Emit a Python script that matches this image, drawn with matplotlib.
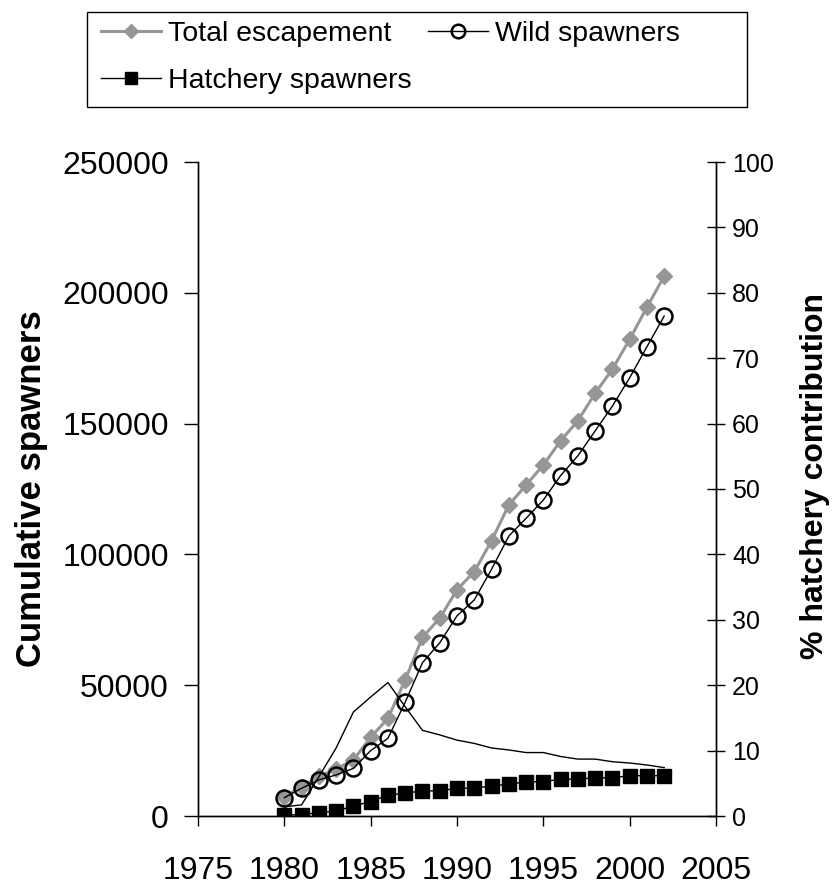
import numpy as np
import matplotlib
matplotlib.use("Agg")
import matplotlib.pyplot as plt
from matplotlib.patches import Rectangle

plt.rcParams['font.family'] = ['Liberation Sans', 'DejaVu Sans']

years = list(range(1980, 2003))

total_escapement = [7400, 11100, 15100, 18000, 21400, 30100, 37300, 52000,
                    68300, 75600, 86500, 93400, 105200, 118900, 126500,
                    134200, 143400, 151100, 161600, 170800, 182200, 194500,
                    206400]
wild_spawners = [7000, 10600, 13800, 15700, 18200, 25000, 29700, 43500,
                 58600, 66200, 76500, 82600, 94300, 107000, 113800, 120800,
                 130100, 137700, 147200, 156700, 167500, 179400, 191100]
hatchery_spawners = [400, 500, 1300, 1900, 3800, 5500, 8000, 8700, 9600,
                     9600, 10600, 10600, 11500, 12100, 13100, 13100, 14100,
                     14100, 14600, 14600, 15400, 15400, 15400]
hatchery_pct = [1.4, 1.7, 6.0, 10.4, 15.9, 18.2, 20.4, 16.7, 13.1, 12.4,
                11.6, 11.1, 10.4, 10.1, 9.7, 9.7, 9.1, 8.7, 8.7, 8.3, 8.1,
                7.8, 7.4]

GRAY = '#969696'
W, H = 838, 886

fig = plt.figure(figsize=(W / 100, H / 100), dpi=100)
ax1 = fig.add_axes([198 / W, 1 - 816 / H, 518 / W, 654 / H])
ax2 = ax1.twinx()

l_tot, = ax1.plot(years, total_escapement, color=GRAY, lw=2.2, marker='D',
                  ms=8, mfc=GRAY, mec=GRAY, zorder=2,
                  label='Total escapement')
l_wild, = ax1.plot(years, wild_spawners, color='black', lw=1.0, marker='o',
                   ms=11.5, mfc='none', mec='black', mew=1.8, zorder=3,
                   label='Wild spawners')
l_hat, = ax1.plot(years, hatchery_spawners, color='black', lw=1.0,
                  marker='s', ms=10, mfc='black', mec='black', zorder=4,
                  label='Hatchery spawners')
ax2.plot(years, hatchery_pct, color='black', lw=1.0)

ax1.set_xlim(1975, 2005)
ax1.set_ylim(0, 250000)
ax2.set_ylim(0, 100)
ax1.set_xticks(range(1975, 2006, 5))
ax1.set_yticks(range(0, 250001, 50000))
ax2.set_yticks(range(0, 101, 10))

ax1.spines['top'].set_visible(False)
ax2.spines['top'].set_visible(False)
for ax in (ax1, ax2):
    for sp in ax.spines.values():
        sp.set_linewidth(1.0)

ax1.tick_params(axis='y', direction='out', length=10, width=1.0,
                labelsize=23, pad=11)
ax1.tick_params(axis='x', direction='out', length=7.5, width=1.0,
                labelsize=23, pad=21)
ax2.tick_params(axis='y', direction='inout', length=13, width=1.0,
                labelsize=18, pad=5)

ax1.set_ylabel('Cumulative spawners', fontsize=25, fontweight='bold',
               labelpad=10)
ax2.set_ylabel('% hatchery contribution', fontsize=23, fontweight='bold')
ax2.yaxis.set_label_coords(1.162, 0.52)

# legend box drawn separately so it can be wider than its entries
fig.add_artist(Rectangle((87 / W, 1 - 107 / H), 660 / W, 95 / H,
                         transform=fig.transFigure, fill=False,
                         edgecolor='black', lw=1.0))
leg = fig.legend([l_tot, l_hat, l_wild],
                 ['Total escapement', 'Hatchery spawners', 'Wild spawners'],
                 ncol=2, loc='upper left',
                 bbox_to_anchor=(78 / W, 1 + 2 / H),
                 frameon=False, prop={'size': 20.5},
                 handlelength=2.1, handletextpad=0.25, columnspacing=0.6,
                 labelspacing=0.75, borderpad=0.3, markerscale=0.85)

fig.savefig('out.png', dpi=100)
